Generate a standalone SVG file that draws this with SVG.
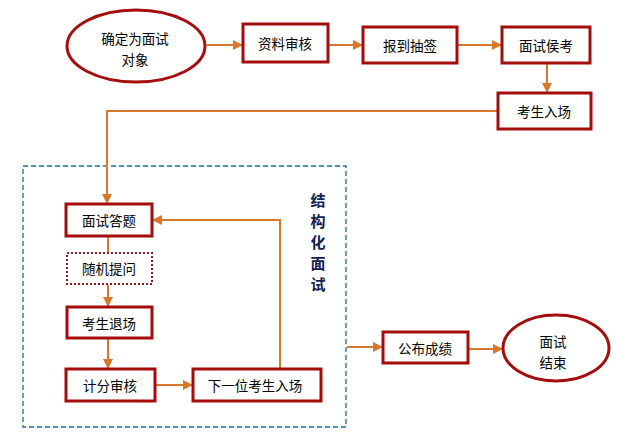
<svg xmlns="http://www.w3.org/2000/svg" width="625" height="444" viewBox="0 0 625 444">
<style>
.n{fill:#fff;stroke:#a50d0d;stroke-width:3}
.d{fill:#fff;stroke:#8b1a1a;stroke-width:2;stroke-dasharray:2 2}
.t{font-family:"Noto Sans CJK SC","Liberation Sans",sans-serif;font-size:13.5px;fill:#000;text-anchor:middle;dominant-baseline:central}
.v{font-family:"Noto Sans CJK SC",sans-serif;font-size:15px;font-weight:bold;fill:#14224e;text-anchor:middle;dominant-baseline:central}
.c{fill:none;stroke:#d9782a;stroke-width:2}
</style>
<defs>
<marker id="a" viewBox="0 0 10 10" refX="9" refY="5" markerWidth="5" markerHeight="5" orient="auto" markerUnits="strokeWidth">
<path d="M0,0L10,5L0,10z" fill="#d9782a"/>
</marker>
</defs>
<rect id="group" x="23" y="166" width="323" height="261" fill="none" stroke="#1c6f98" stroke-width="1.3" stroke-dasharray="5 3"/>
<g id="connectors">
<path class="c" d="M207,45H242" marker-end="url(#a)"/>
<path class="c" d="M329,45H362" marker-end="url(#a)"/>
<path class="c" d="M458,45H501" marker-end="url(#a)"/>
<path class="c" d="M547,64V92" marker-end="url(#a)"/>
<path class="c" d="M497,111H107V203" marker-end="url(#a)"/>
<path class="c" d="M108,237V252"/>
<path class="c" d="M108,285V306" marker-end="url(#a)"/>
<path class="c" d="M108,339V368" marker-end="url(#a)"/>
<path class="c" d="M156,385H192" marker-end="url(#a)"/>
<path class="c" d="M280,368V220H153" marker-end="url(#a)"/>
<path class="c" d="M347,347H382" marker-end="url(#a)"/>
<path class="c" d="M469,349H502" marker-end="url(#a)"/>
</g>
<g id="n1"><ellipse class="n" cx="136" cy="46" rx="69" ry="36"/><text class="t" x="135" y="38">确定为面试</text><text class="t" x="135" y="59">对象</text></g>
<g id="n2"><rect class="n" x="243" y="24" width="85" height="38"/><text class="t" x="285" y="43">资料审核</text></g>
<g id="n3"><rect class="n" x="363" y="27" width="94" height="36"/><text class="t" x="410" y="45">报到抽签</text></g>
<g id="n4"><rect class="n" x="502" y="27" width="88" height="36"/><text class="t" x="546" y="45">面试侯考</text></g>
<g id="n5"><rect class="n" x="498" y="93" width="93" height="36"/><text class="t" x="544" y="111">考生入场</text></g>
<g id="n6"><rect class="n" x="66" y="204" width="86" height="32"/><text class="t" x="109" y="220">面试答题</text></g>
<g id="n7"><rect class="d" x="67" y="253" width="85" height="31"/><text class="t" x="109" y="268">随机提问</text></g>
<g id="n8"><rect class="n" x="67" y="307" width="85" height="31"/><text class="t" x="109" y="323">考生退场</text></g>
<g id="n9"><rect class="n" x="66" y="369" width="89" height="32"/><text class="t" x="110" y="385">计分审核</text></g>
<g id="n10"><rect class="n" x="193" y="369" width="128" height="32"/><text class="t" x="255" y="385">下一位考生入场</text></g>
<g id="n11"><rect class="n" x="383" y="332" width="85" height="31"/><text class="t" x="425" y="348">公布成绩</text></g>
<g id="n12"><ellipse class="n" cx="556" cy="348" rx="53" ry="33"/><text class="t" x="553" y="341">面试</text><text class="t" x="553" y="362">结束</text></g>
<g id="label"><text class="v" x="318" y="199">结</text><text class="v" x="318" y="220">构</text><text class="v" x="318" y="241">化</text><text class="v" x="318" y="262">面</text><text class="v" x="318" y="283">试</text></g>
</svg>
